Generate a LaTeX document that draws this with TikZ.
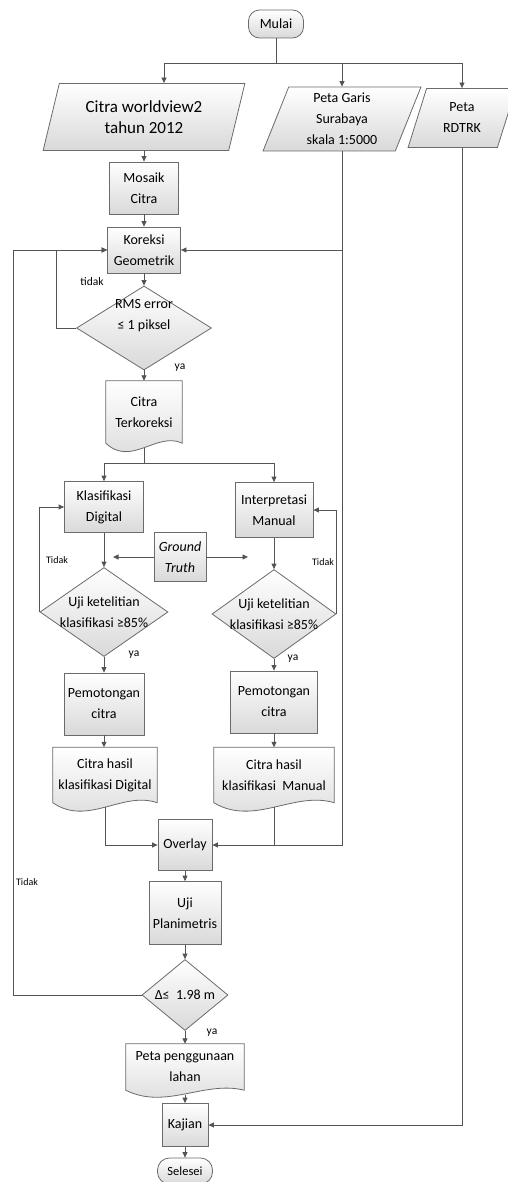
\documentclass[tikz,border=0pt]{standalone}
\usepackage{fontspec}
\setmainfont{Carlito}
\usetikzlibrary{arrows.meta,shapes.geometric,calc,backgrounds}
\definecolor{lc}{rgb}{0.33,0.33,0.33}
\definecolor{bc}{rgb}{0.42,0.42,0.42}
\definecolor{fb}{rgb}{0.85,0.85,0.85}
\newcommand\basefont{\fontsize{14}{21}\selectfont}
\newcommand\docshape[2]{%
  \path[docsh] (#1.north west) -- (#1.north east) -- (#1.south east)
    .. controls ($(#1.south west)!2/3!(#1.south east)+(0,-#2)$)
       and ($(#1.south west)!1/3!(#1.south east)+(0,{2*#2})$) .. (#1.south west) -- cycle;}
\tikzset{
  shade/.style={top color=white, bottom color=fb},
  box/.style={rectangle, draw=bc, line width=0.8pt, shade, align=center, inner sep=1pt},
  term/.style={box, rounded corners=11pt},
  io/.style={trapezium, trapezium stretches=true, trapezium left angle=72, trapezium right angle=108,
             draw=bc, line width=0.8pt, shade, align=center, inner sep=1pt},
  dec/.style={diamond, draw=bc, line width=0.8pt, shade, inner sep=0pt},
  txt/.style={align=center, inner sep=0pt},
  doctext/.style={rectangle, align=center, inner sep=0pt},
  docsh/.style={draw=bc, line width=0.8pt, shade},
  line/.style={draw=lc, line width=0.8pt},
  arr/.style={line, -{Triangle[length=5.5pt,width=5pt]}},
  lbl/.style={font=\fontsize{11.5}{13}\selectfont, inner sep=0pt},
  lbls/.style={font=\fontsize{10}{12}\selectfont, inner sep=0pt},
}
\begin{document}
\begin{tikzpicture}[x=1pt, y=-1pt, font=\basefont]
\useasboundingbox (0,0) rectangle (507,1182);
% top
\node[term, minimum width=55, minimum height=28] (mulai) at (276,24) {Mulai};
\node[io, minimum width=202, minimum height=67, font=\fontsize{17}{21}\selectfont] (cw) at (144,117) {Citra worldview2\\tahun 2012};
\node[io, minimum width=158, minimum height=64] (pg) at (342,119) {Peta Garis\\Surabaya\\skala 1:5000};
\node[io, minimum width=108, minimum height=59] (rd) at (462,118) {Peta\\RDTRK};
\coordinate (j0) at (276,63);
\draw[line] (mulai.south) -- (j0);
\draw[arr] (j0) -| ([xshift=20pt]cw.north -| cw.center);
\draw[arr] (j0) -| (pg.north -| pg.center);
\draw[arr] (j0) -| (rd.north -| rd.center);
% left chain
\node[box, minimum width=69, minimum height=52] (mos) at (144,188) {Mosaik\\Citra};
\draw[arr] (cw.south -| cw.center) -- (mos.north);
\node[box, minimum width=73, minimum height=46] (kor) at (144,250) {Koreksi\\Geometrik};
\draw[arr] (mos) -- (kor);
\node[dec, minimum width=135, minimum height=84] (rms) at (144,328) {};
\node[txt] (rmst) at (144,316) {RMS error\\≤ 1 piksel};
\draw[arr] (kor) -- (rms);
\draw[arr] (rms.west) -- ++(-20,0) |- (kor.west);
\node[lbl] (tidak1) at (92,282) {tidak};
\node[lbl] (ya1) at (180,368) {ya};
\node[doctext, minimum width=76, minimum height=62] (ter) at (144,412) {Citra\\Terkoreksi};
\draw[arr] (rms) -- (ter);
% peta garis line
\draw[arr] (pg.south -| pg.center) |- (kor.east);
% branch
\coordinate (j1) at (144,463);
\draw[line] ([yshift=-4.5pt]ter.south) -- (j1);
\node[box, minimum width=79, minimum height=51] (kd) at (104,507) {Klasifikasi\\Digital};
\node[box, minimum width=78, minimum height=55] (im) at (274,510) {Interpretasi\\Manual};
\draw[arr] (j1) -| (kd.north);
\draw[arr] (j1) -| (im.north);
\node[box, minimum width=52, minimum height=49, font=\basefont\itshape] (gt) at (180,557) {Ground\\Truth};
\coordinate (gtl) at (113,557);
\coordinate (gtr) at (248,557);
\draw[arr] (gt.west) -- (gtl);
\draw[arr] (gt.east) -- (gtr);
\node[dec, minimum width=128, minimum height=89] (d1) at (104,612) {};
\node[txt] (d1t) at (104,612) {Uji ketelitian\\klasifikasi ≥85\%};
\node[dec, minimum width=124, minimum height=89] (d2) at (274,614) {};
\node[txt] (d2t) at (274,614) {Uji ketelitian\\klasifikasi ≥85\%};
\draw[arr] (kd) -- (d1);
\draw[arr] (im) -- (d2);
\draw[arr] (d1.west) |- (kd.west);
\draw[arr] (d2.east) |- (im.east);
\node[lbls] (tidak2) at (57,560) {Tidak};
\node[lbls] (tidak3) at (323,562) {Tidak};
\node[lbl] (ya2) at (134,655) {ya};
\node[lbl] (ya3) at (293,659) {ya};
\node[box, minimum width=80, minimum height=62] (pem1) at (104,704) {Pemotongan\\citra};
\node[box, minimum width=87, minimum height=62] (pem2) at (274,702) {Pemotongan\\citra};
\draw[arr] (d1) -- (pem1);
\draw[arr] (d2) -- (pem2);
\node[doctext, minimum width=104, minimum height=55] (doc1) at (105,775) {Citra hasil\\klasifikasi Digital};
\node[doctext, minimum width=120, minimum height=55] (doc2) at (274,775) {Citra hasil\\klasifikasi\ \ Manual};
\draw[arr] (pem1) -- (pem1 |- doc1.north);
\draw[arr] (pem2) -- (pem2 |- doc2.north);
\node[box, minimum width=54, minimum height=51] (ov) at (185,845) {Overlay};
\draw[arr] ([yshift=-4.5pt]doc1.south) |- (ov.west);
\draw[line] ([yshift=-4.5pt]doc2.south) -- (doc2.south |- ov.east);
\draw[arr] (pg.south -| pg.center) |- (ov.east);
\node[box, minimum width=72, minimum height=63] (uji) at (185,913) {Uji\\Planimetris};
\draw[arr] (ov) -- (uji);
\node[dec, minimum width=86, minimum height=71] (dd) at (185,995) {};
\node[txt] (ddt) at (185,995) {Δ≤\ \ 1.98 m};
\draw[arr] (uji) -- (dd);
\coordinate (lp) at (13,995);
\draw[arr] (dd.west) -- (lp) |- (kor.west);
\node[lbls] (tidak4) at (27,882) {Tidak};
\node[lbl] (ya4) at (212,1033) {ya};
\node[doctext, minimum width=118, minimum height=46] (ppl) at (185,1067) {Peta penggunaan\\lahan};
\draw[arr] (dd) -- (ppl);
\node[box, minimum width=46, minimum height=43] (kaj) at (185,1125) {Kajian};
\draw[arr] ([yshift=-4.5pt]ppl.south) -- (kaj);
\draw[arr] (rd.south -| rd.center) |- (kaj.east);
\node[term, minimum width=55, minimum height=26, rounded corners=12pt, font=\fontsize{12.5}{15}\selectfont] (sel) at (185,1171) {Selesei};
\draw[arr] (kaj) -- (sel);
\begin{pgfonlayer}{background}
\docshape{ter}{12}
\docshape{doc1}{12}
\docshape{doc2}{12}
\docshape{ppl}{10}
\end{pgfonlayer}
\end{tikzpicture}
\end{document}
